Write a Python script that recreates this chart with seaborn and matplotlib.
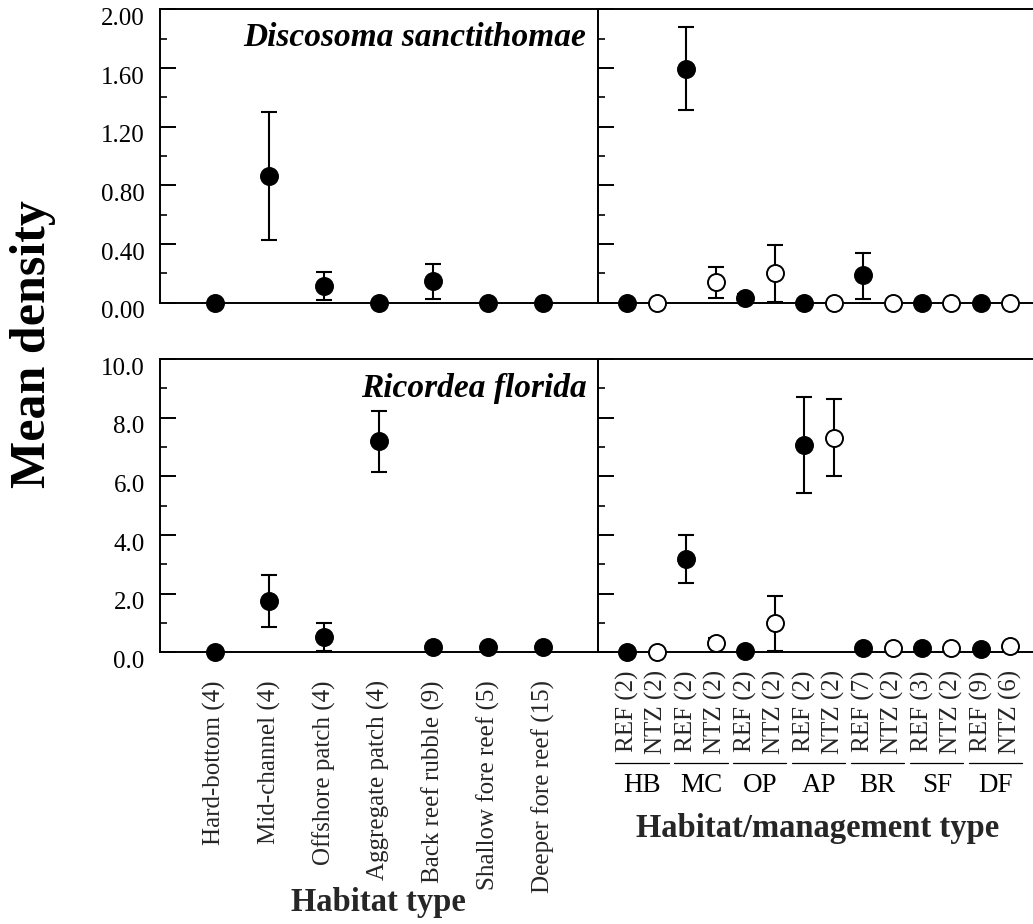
import numpy as np
import pandas as pd
import seaborn as sns
import matplotlib
matplotlib.use("Agg")
import matplotlib.pyplot as plt
from matplotlib.ticker import MultipleLocator, FixedLocator
from matplotlib.transforms import offset_copy

# ---- data -------------------------------------------------------------
habitats = ["Hard-bottom (4)", "Mid-channel (4)", "Offshore patch (4)",
            "Aggregate patch (4)", "Back reef rubble (9)",
            "Shallow fore reef (5)", "Deeper fore reef (15)"]

disc_mean = [0.00, 0.865, 0.115, 0.00, 0.145, 0.00, 0.00]
disc_lo   = [0.00, 0.430, 0.020, 0.00, 0.025, 0.00, 0.00]
disc_hi   = [0.00, 1.300, 0.210, 0.00, 0.265, 0.00, 0.00]

ric_mean = [0.00, 1.75, 0.52, 7.19, 0.17, 0.17, 0.18]
ric_lo   = [0.00, 0.85, 0.03, 6.15, 0.17, 0.17, 0.18]
ric_hi   = [0.00, 2.65, 1.00, 8.24, 0.17, 0.17, 0.18]

groups = ["HB", "MC", "OP", "AP", "BR", "SF", "DF"]
zones = ["REF", "NTZ"]
zone_n = [2, 2, 2, 2, 2, 2, 2, 2, 7, 2, 3, 2, 9, 6]

disc_mgmt_mean = [0.00, 0.00, 1.590, 0.140, 0.030, 0.200, 0.00, 0.00, 0.190, 0.00, 0.00, 0.00, 0.00, 0.00]
disc_mgmt_lo   = [0.00, 0.00, 1.315, 0.035, 0.000, 0.007, 0.00, 0.00, 0.027, 0.00, 0.00, 0.00, 0.00, 0.00]
disc_mgmt_hi   = [0.00, 0.00, 1.880, 0.240, 0.060, 0.395, 0.00, 0.00, 0.340, 0.00, 0.00, 0.00, 0.00, 0.00]

ric_mgmt_mean = [0.00, 0.00, 3.18, 0.33, 0.06, 0.99, 7.07, 7.32, 0.14, 0.14, 0.14, 0.15, 0.12, 0.23]
ric_mgmt_lo   = [0.00, 0.00, 2.35, 0.18, 0.06, 0.05, 5.44, 6.01, 0.05, 0.14, 0.14, 0.15, 0.12, 0.23]
ric_mgmt_hi   = [0.00, 0.00, 4.00, 0.48, 0.06, 1.91, 8.70, 8.64, 0.25, 0.14, 0.14, 0.15, 0.12, 0.23]

# ---- style ------------------------------------------------------------
sns.set_theme(style="ticks")
plt.rcParams["font.family"] = ["Liberation Serif", "DejaVu Serif"]
plt.rcParams["axes.linewidth"] = 1.4
plt.rcParams["axes.edgecolor"] = "black"
plt.rcParams["text.color"] = "black"

W, H = 1033, 924
fig = plt.figure(figsize=(W / 100, H / 100), dpi=100)

def px_box(x0, x1, ytop, ybot):
    return [x0 / W, 1 - ybot / H, (x1 - x0) / W, (ybot - ytop) / H]

ax_tl = fig.add_axes(px_box(160, 597.5, 9.3, 302.7))
ax_tr = fig.add_axes(px_box(597.5, 1034, 9.3, 302.7))
ax_bl = fig.add_axes(px_box(160, 597.5, 359, 652.3))
ax_br = fig.add_axes(px_box(597.5, 1034, 359, 652.3))

MS = 150        # marker area, pt^2
EW = 1.4        # marker edge width


def draw_points(ax, pos, mean, lo, hi, filled):
    df = pd.DataFrame({"pos": pos, "mean": mean, "lo": lo, "hi": hi, "filled": filled})
    has_err = df["hi"] > df["lo"]
    e = df[has_err]
    if len(e):
        ax.errorbar(e["pos"], e["mean"],
                    yerr=[e["mean"] - e["lo"], e["hi"] - e["mean"]],
                    fmt="none", ecolor="black", elinewidth=1.5,
                    capsize=6, capthick=1.5, zorder=2, clip_on=False)
    solid = df[df["filled"]]
    hollow = df[~df["filled"]]
    if len(solid):
        sns.scatterplot(data=solid, x="pos", y="mean", ax=ax, s=MS,
                        color="black", edgecolor="black", linewidth=EW,
                        zorder=4, clip_on=False, legend=False)
    if len(hollow):
        sns.scatterplot(data=hollow, x="pos", y="mean", ax=ax, s=MS,
                        color="white", edgecolor="black", linewidth=EW,
                        zorder=4, clip_on=False, legend=False)
    ax.set_xlabel("")
    ax.set_ylabel("")


hab_pos = np.arange(len(habitats))
mgmt_pos = np.arange(len(zone_n))
mgmt_filled = [i % 2 == 0 for i in mgmt_pos]

draw_points(ax_tl, hab_pos, disc_mean, disc_lo, disc_hi, [True] * len(habitats))
draw_points(ax_bl, hab_pos, ric_mean, ric_lo, ric_hi, [True] * len(habitats))
draw_points(ax_tr, mgmt_pos, disc_mgmt_mean, disc_mgmt_lo, disc_mgmt_hi, mgmt_filled)
draw_points(ax_br, mgmt_pos, ric_mgmt_mean, ric_mgmt_lo, ric_mgmt_hi, mgmt_filled)

# ---- axes -------------------------------------------------------------
for ax in (ax_tl, ax_bl):
    ax.set_xlim(-1, 7)
for ax in (ax_tr, ax_br):
    ax.set_xlim(-1.013, 13.8)
    ax.spines["right"].set_visible(False)

for ax in (ax_tl, ax_tr):
    ax.set_ylim(0, 2.0)
    ax.yaxis.set_major_locator(FixedLocator(np.arange(0, 2.01, 0.4)))
    ax.yaxis.set_minor_locator(MultipleLocator(0.2))
for ax in (ax_bl, ax_br):
    ax.set_ylim(0, 10.0)
    ax.yaxis.set_major_locator(FixedLocator(np.arange(0, 10.01, 2.0)))
    ax.yaxis.set_minor_locator(MultipleLocator(1.0))

for ax in (ax_tl, ax_tr, ax_bl, ax_br):
    ax.tick_params(axis="y", which="major", direction="in", length=11.3,
                   width=1.4, labelsize=18, pad=11, colors="black", right=False)
    ax.tick_params(axis="y", which="minor", direction="in", length=5.3,
                   width=1.4, right=False)
    ax.tick_params(axis="x", length=0, bottom=False, top=False)
    for s in ax.spines.values():
        s.set_linewidth(1.4)
        s.set_color("black")

ax_tl.yaxis.set_major_formatter(matplotlib.ticker.FormatStrFormatter("%.2f"))
ax_bl.yaxis.set_major_formatter(matplotlib.ticker.FormatStrFormatter("%.1f"))
for ax in (ax_tr, ax_br):
    ax.tick_params(axis="y", labelleft=False)

# y tick labels hang just below their tick
for ax in (ax_tl, ax_bl):
    for lab in ax.get_yticklabels():
        lab.set_verticalalignment("baseline")
        lab.set_transform(offset_copy(lab.get_transform(), fig=fig, x=0, y=-11.3, units="points"))

ax_tl.set_xticks([])
ax_tr.set_xticks([])

ax_bl.set_xticks(hab_pos)
ax_bl.set_xticklabels(habitats, rotation=90, fontsize=18, va="top", ha="center")
ax_bl.tick_params(axis="x", pad=20)

mgmt_labels = [f"{zones[i % 2]} ({n})" for i, n in enumerate(zone_n)]
ax_br.set_xticks(mgmt_pos)
ax_br.set_xticklabels(mgmt_labels, rotation=90, fontsize=18, va="top", ha="center")
ax_br.tick_params(axis="x", pad=13)

# group underlines and names below the paired zone labels
xt = ax_br.get_xaxis_transform()
axes_h = 652.3 - 359
line_y = -(763.3 - 652.3) / axes_h
name_y = -(785 - 652.3) / axes_h
for i, g in enumerate(groups):
    ax_br.plot([2 * i - 0.42, 2 * i + 1.4], [line_y, line_y], transform=xt,
               color="black", lw=0.9, clip_on=False)
    ax_br.text(2 * i + 0.5, name_y, g, transform=xt, ha="center", va="center",
               fontsize=19.5)

# ---- titles and labels ------------------------------------------------
ax_tl.text(0.975, 0.905, "Discosoma sanctithomae", transform=ax_tl.transAxes,
           ha="right", va="center", fontsize=24, fontweight="bold", fontstyle="italic")
ax_bl.text(0.975, 0.90, "Ricordea florida", transform=ax_bl.transAxes,
           ha="right", va="center", fontsize=24, fontweight="bold", fontstyle="italic")

ax_bl.set_xlabel("Habitat type", fontsize=23.5, fontweight="bold", va="center")
ax_bl.xaxis.set_label_coords(0.5, -(903 - 652.3) / axes_h)
ax_br.set_xlabel("Habitat/management type", fontsize=23.5, fontweight="bold", va="center")
ax_br.xaxis.set_label_coords((818 - 597.5) / (1034 - 597.5), -(828 - 652.3) / axes_h)

fig.text(33 / W, 1 - 344 / H, "Mean density", rotation=90, ha="center", va="center",
         fontsize=36, fontweight="bold")

fig.savefig("out.png", dpi=100, facecolor="white")
